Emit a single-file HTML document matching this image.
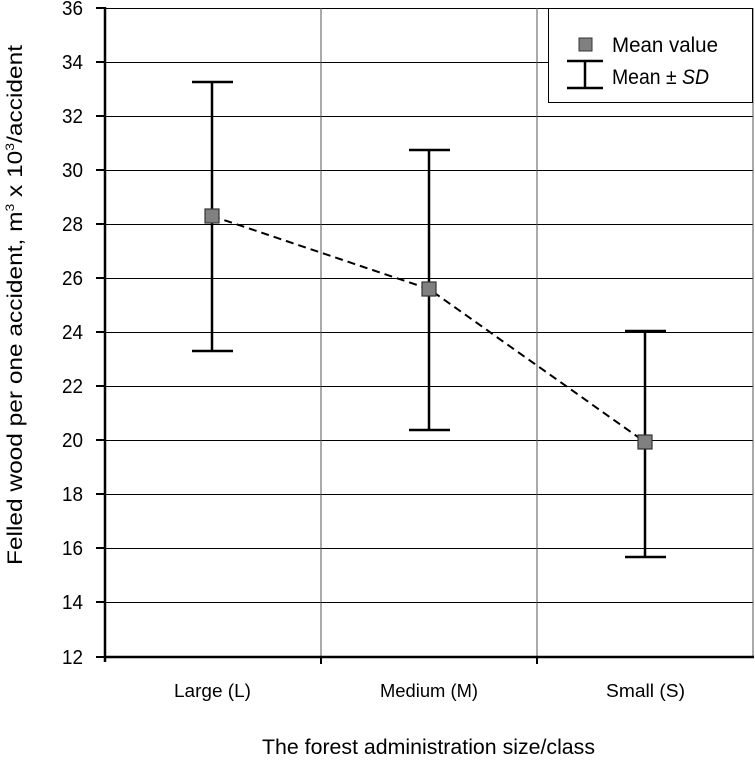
<!DOCTYPE html>
<html><head><style>body{margin:0;background:#fff}</style></head><body>
<svg width="755" height="762" xmlns="http://www.w3.org/2000/svg" font-family="Liberation Sans, sans-serif">
<g stroke="#000" stroke-width="1">
<line x1="104" y1="8.5" x2="753" y2="8.5"/><line x1="104" y1="62.5" x2="753" y2="62.5"/><line x1="104" y1="116.5" x2="753" y2="116.5"/><line x1="104" y1="170.5" x2="753" y2="170.5"/><line x1="104" y1="224.5" x2="753" y2="224.5"/><line x1="104" y1="278.5" x2="753" y2="278.5"/><line x1="104" y1="332.5" x2="753" y2="332.5"/><line x1="104" y1="386.5" x2="753" y2="386.5"/><line x1="104" y1="440.5" x2="753" y2="440.5"/><line x1="104" y1="494.5" x2="753" y2="494.5"/><line x1="104" y1="548.5" x2="753" y2="548.5"/><line x1="104" y1="602.5" x2="753" y2="602.5"/>
<line x1="321" y1="8" x2="321" y2="657" stroke="#555"/><line x1="537" y1="8" x2="537" y2="657" stroke="#555"/><line x1="753" y1="8" x2="753" y2="657" stroke="#555"/>
</g>
<g stroke="#000" stroke-width="2.5">
<line x1="105" y1="7" x2="105" y2="662"/><line x1="104" y1="657" x2="754" y2="657"/>
</g>
<g stroke="#000" stroke-width="2">
<line x1="96" y1="8" x2="105" y2="8"/><line x1="96" y1="62" x2="105" y2="62"/><line x1="96" y1="116" x2="105" y2="116"/><line x1="96" y1="170" x2="105" y2="170"/><line x1="96" y1="224" x2="105" y2="224"/><line x1="96" y1="278" x2="105" y2="278"/><line x1="96" y1="332" x2="105" y2="332"/><line x1="96" y1="386" x2="105" y2="386"/><line x1="96" y1="440" x2="105" y2="440"/><line x1="96" y1="494" x2="105" y2="494"/><line x1="96" y1="548" x2="105" y2="548"/><line x1="96" y1="602" x2="105" y2="602"/><line x1="96" y1="657" x2="105" y2="657"/>
<line x1="321" y1="657" x2="321" y2="664"/><line x1="537" y1="657" x2="537" y2="664"/>
</g>
<g font-size="20" fill="#000">
<text x="62" y="15" textLength="21" lengthAdjust="spacingAndGlyphs">36</text><text x="62" y="69" textLength="21" lengthAdjust="spacingAndGlyphs">34</text><text x="62" y="123" textLength="21" lengthAdjust="spacingAndGlyphs">32</text><text x="62" y="177" textLength="21" lengthAdjust="spacingAndGlyphs">30</text><text x="62" y="231" textLength="21" lengthAdjust="spacingAndGlyphs">28</text><text x="62" y="285" textLength="21" lengthAdjust="spacingAndGlyphs">26</text><text x="62" y="339" textLength="21" lengthAdjust="spacingAndGlyphs">24</text><text x="62" y="393" textLength="21" lengthAdjust="spacingAndGlyphs">22</text><text x="62" y="447" textLength="21" lengthAdjust="spacingAndGlyphs">20</text><text x="62" y="501" textLength="21" lengthAdjust="spacingAndGlyphs">18</text><text x="62" y="555" textLength="21" lengthAdjust="spacingAndGlyphs">16</text><text x="62" y="609" textLength="21" lengthAdjust="spacingAndGlyphs">14</text><text x="62" y="664" textLength="21" lengthAdjust="spacingAndGlyphs">12</text>
</g>
<g font-size="18">
<text x="174" y="697" textLength="77" lengthAdjust="spacingAndGlyphs">Large (L)</text>
<text x="380" y="697" textLength="98" lengthAdjust="spacingAndGlyphs">Medium (M)</text>
<text x="606" y="697" textLength="79" lengthAdjust="spacingAndGlyphs">Small (S)</text>
</g>
<text x="262" y="754" font-size="21" textLength="333" lengthAdjust="spacingAndGlyphs">The forest administration size/class</text>
<text transform="translate(22,565) rotate(-90)" font-size="21" textLength="520" lengthAdjust="spacingAndGlyphs">Felled wood per one accident, m<tspan font-size="12" dy="-8">3</tspan><tspan dy="8"> x 10</tspan><tspan font-size="12" dy="-8">3</tspan><tspan dy="8">/accident</tspan></text>
<polyline points="212,216 429,289 645,442" fill="none" stroke="#000" stroke-width="2" stroke-dasharray="8,5"/>
<g stroke="#000" stroke-width="2.5">
<line x1="212" y1="82" x2="212" y2="351"/><line x1="192" y1="82" x2="233" y2="82"/><line x1="192" y1="351" x2="233" y2="351"/>
<line x1="429" y1="150" x2="429" y2="430"/><line x1="409" y1="150" x2="450" y2="150"/><line x1="409" y1="430" x2="450" y2="430"/>
<line x1="645" y1="331" x2="645" y2="557"/><line x1="625" y1="331" x2="666" y2="331"/><line x1="625" y1="557" x2="666" y2="557"/>
</g>
<g fill="#808080" stroke="#333" stroke-width="1.2">
<rect x="205" y="209" width="14" height="14"/><rect x="422" y="282" width="14" height="14"/><rect x="638" y="435" width="14" height="14"/>
</g>
<rect x="548.5" y="8.5" width="204" height="94" fill="#fff" stroke="#000"/>
<rect x="579" y="38" width="13" height="13" fill="#808080" stroke="#333"/>
<g stroke="#000" stroke-width="2.5"><line x1="567" y1="61" x2="603" y2="61"/><line x1="567" y1="88" x2="603" y2="88"/><line x1="585" y1="61" x2="585" y2="88"/></g>
<g font-size="21"><text x="612" y="52" textLength="106" lengthAdjust="spacingAndGlyphs">Mean value</text><text x="612" y="84" textLength="97" lengthAdjust="spacingAndGlyphs">Mean ± <tspan font-style="italic">SD</tspan></text></g>
</svg>
</body></html>
